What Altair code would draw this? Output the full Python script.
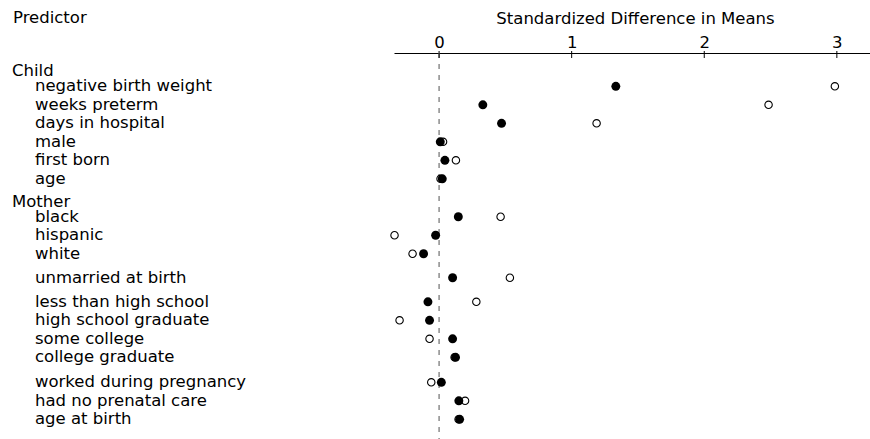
import altair as alt
import pandas as pd

# ---- data ----
predictors = [
    "negative birth weight", "weeks preterm", "days in hospital", "male",
    "first born", "age",
    "black", "hispanic", "white", "unmarried at birth",
    "less than high school", "high school graduate", "some college",
    "college graduate", "worked during pregnancy", "had no prenatal care",
    "age at birth",
]
rows = [0, 1, 2, 3, 4, 5,
        7.05, 8.05, 9.05, 10.35,
        11.65, 12.65, 13.65, 14.65,
        16, 17, 18]
before_matching = [2.985, 2.485, 1.188, 0.030, 0.127, 0.011,
                   0.464, -0.336, -0.200, 0.534,
                   0.281, -0.298, -0.072, 0.117,
                   -0.059, 0.196, 0.147]
after_matching = [1.333, 0.330, 0.471, 0.009, 0.044, 0.024,
                  0.145, -0.026, -0.117, 0.102,
                  -0.084, -0.072, 0.102, 0.124,
                  0.017, 0.149, 0.155]
groups = ["Child", "Mother"]
group_rows = [-0.8, 6.25]
tick_values = [0, 1, 2, 3]
header = ["Predictor"]
x_title = "Standardized Difference in Means"

df = pd.DataFrame({
    "predictor": predictors,
    "row": rows,
    "before": before_matching,
    "after": after_matching,
})
hdr = pd.DataFrame({"group": groups, "row": group_rows})
ticks_df = pd.DataFrame({"t": tick_values})
head_df = pd.DataFrame({"t": header})

FONT = "DejaVu Sans"
FS = 16.5

xscale = alt.Scale(domain=[-0.34, 3.25], nice=False, zero=False)
yscale = alt.Scale(domain=[-1.8, 19.065], reverse=True, nice=False, zero=False)

x_axis = alt.Axis(
    orient="top", values=tick_values, format="d", grid=False,
    ticks=False, tickSize=0, domain=True, domainColor="black", domainWidth=1,
    labelFont=FONT, labelFontSize=FS, labelColor="black",
    labelBaseline="alphabetic", labelPadding=6, labelFlush=False,
    title=x_title, titleFont=FONT, titleFontSize=FS, titleFontWeight="normal",
    titleColor="black", titleX=241, titleY=-29.7, titleBaseline="alphabetic",
    titleAlign="center", titleAngle=0,
)

ref = alt.Chart(pd.DataFrame({"v": [0]})).mark_rule(
    color="#7a7a7a", strokeDash=[5, 6], strokeWidth=1.3
).encode(x=alt.X("v:Q", scale=xscale, axis=x_axis, title=x_title))

tick_marks = alt.Chart(ticks_df).mark_rule(color="black", strokeWidth=1).encode(
    x=alt.X("t:Q", scale=xscale, axis=x_axis, title=x_title),
    y=alt.value(-2), y2=alt.value(5),
)

open_pts = alt.Chart(df).mark_point(
    shape="circle", filled=False, color="black", size=55, strokeWidth=1.1, opacity=1
).encode(
    x=alt.X("before:Q", scale=xscale, axis=x_axis, title=x_title),
    y=alt.Y("row:Q", scale=yscale, axis=None),
)

filled_pts = alt.Chart(df).mark_point(
    shape="circle", filled=True, color="black", size=80, opacity=1
).encode(
    x=alt.X("after:Q", scale=xscale, axis=x_axis, title=x_title),
    y=alt.Y("row:Q", scale=yscale, axis=None),
)

labels = alt.Chart(df).mark_text(
    align="left", baseline="middle", font=FONT, fontSize=FS, color="black"
).encode(
    x=alt.value(-359),
    y=alt.Y("row:Q", scale=yscale, axis=None),
    text="predictor:N",
)

group_labels = alt.Chart(hdr).mark_text(
    align="left", baseline="middle", font=FONT, fontSize=FS, color="black"
).encode(
    x=alt.value(-382),
    y=alt.Y("row:Q", scale=yscale, axis=None),
    text="group:N",
)

head = alt.Chart(head_df).mark_text(
    align="left", baseline="alphabetic", font=FONT, fontSize=FS, color="black"
).encode(
    x=alt.value(-381), y=alt.value(-29.7), text="t:N",
)

chart = alt.layer(
    ref, tick_marks, open_pts, filled_pts, labels, group_labels, head
).properties(
    width=476, height=386,
    autosize=alt.AutoSizeParams(type="none"),
    padding={"left": 394, "top": 53, "right": 0, "bottom": 0},
    background="white",
).configure_view(stroke=None)

chart.save("out.html", embed_options={"renderer": "svg", "actions": False})
